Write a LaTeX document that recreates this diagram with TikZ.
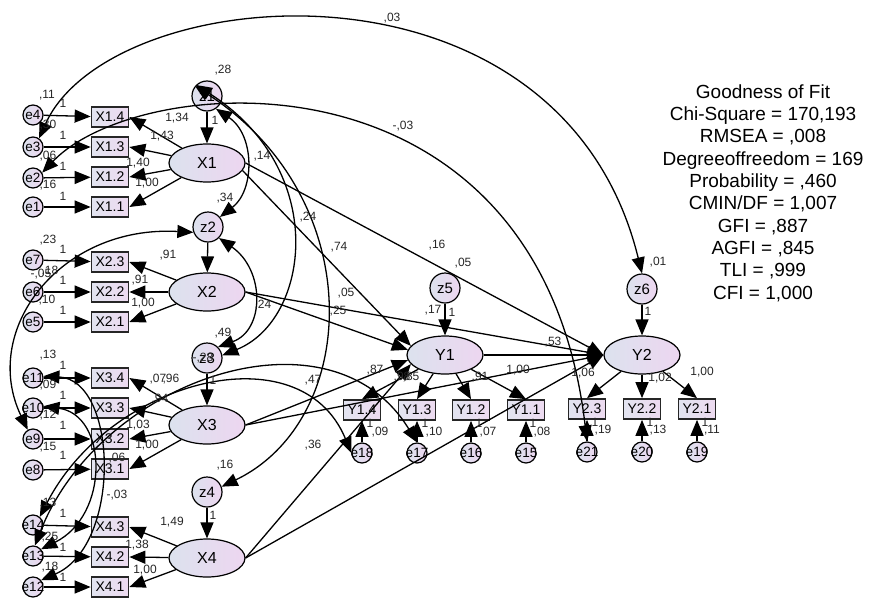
\documentclass[tikz,border=0pt]{standalone}
\usepackage{fontspec}
\setmainfont{Liberation Sans}
\usetikzlibrary{arrows.meta,shapes.geometric}
\definecolor{latL}{HTML}{DCE2EE}
\definecolor{latR}{HTML}{EDD6F0}
\definecolor{boxL}{HTML}{E2E4F0}
\definecolor{boxR}{HTML}{EDDAF0}
\begin{document}
\begin{tikzpicture}[x=1pt,y=-1pt,
  lat/.style={ellipse, draw, line width=1.2pt, minimum width=76pt, minimum height=38pt, inner sep=0pt, left color=latL, right color=latR, font=\fontsize{16}{16}\selectfont},
  obs/.style={rectangle, draw=black!85, line width=1.7pt, minimum width=37pt, minimum height=20pt, inner sep=0pt, left color=boxL, right color=boxR, font=\fontsize{14}{14}\selectfont},
  err/.style={circle, draw, line width=1.2pt, minimum size=20pt, inner sep=0pt, left color=latL, right color=latR, font=\fontsize{13.5}{13.5}\selectfont},
  dis/.style={circle, draw, line width=1.2pt, minimum size=30pt, inner sep=0pt, left color=latL, right color=latR, font=\fontsize{15}{15}\selectfont},
  lbl/.style={inner sep=0pt, text=black!85, font=\fontsize{12}{12}\selectfont},
  arr/.style={line width=1.3pt, -{Triangle[length=16pt,width=13pt]}},
  cov/.style={line width=1.3pt, {Triangle[length=16pt,width=13pt]}-{Triangle[length=16pt,width=13pt]}}
]
\useasboundingbox (0,0) rectangle (869,597);

% ---------- nodes ----------
\foreach \n/\y in {e4/115,e3/147,e2/178,e1/207,e7/260,e6/292,e5/322,e11/378,e10/408,e9/439,e8/470,e14/525,e13/556,e12/587}
  \node[err] (\n) at (33,\y) {\makebox[0pt]{\n}};
\foreach \n/\t/\y in {X14/X1.4/117,X13/X1.3/147,X12/X1.2/177,X11/X1.1/207,X23/X2.3/262,X22/X2.2/292,X21/X2.1/322,X34/X3.4/378,X33/X3.3/408,X32/X3.2/439,X31/X3.1/469,X43/X4.3/527,X42/X4.2/557,X41/X4.1/587}
  \node[obs] (\n) at (110,\y) {\t};
\node[dis] (z1) at (207,96) {z1};
\node[lat] (X1) at (207,163) {X1};
\node[dis] (z2) at (208,227) {z2};
\node[lat] (X2) at (207,292) {X2};
\node[dis] (z3) at (207,358) {z3};
\node[lat] (X3) at (207,425) {X3};
\node[dis] (z4) at (207,492) {z4};
\node[lat] (X4) at (207,558) {X4};
\node[dis] (z5) at (445,288) {z5};
\node[lat] (Y1) at (445,355) {Y1};
\node[dis] (z6) at (642,289) {z6};
\node[lat] (Y2) at (642,355) {Y2};
\foreach \n/\t/\x in {Y14/Y1.4/362,Y13/Y1.3/417,Y12/Y1.2/471,Y11/Y1.1/526}
  \node[obs] (\n) at (\x,410) {\t};
\foreach \n/\x in {e18/362,e17/417,e16/471,e15/526}
  \node[err] (\n) at (\x,453) {\makebox[0pt]{\n}};
\foreach \n/\t/\x in {Y23/Y2.3/587,Y22/Y2.2/642,Y21/Y2.1/697}
  \node[obs] (\n) at (\x,409) {\t};
\foreach \n/\x in {e21/587,e20/642,e19/697}
  \node[err] (\n) at (\x,452) {\makebox[0pt]{\n}};

\node[align=center, inner sep=0pt, font=\fontsize{19}{22.3}\selectfont] (fit) at (763,193)
 {Goodness of Fit\\Chi-Square = 170,193\\RMSEA = ,008\\Degreeoffreedom = 169\\Probability = ,460\\CMIN/DF = 1,007\\GFI = ,887\\AGFI = ,845\\TLI = ,999\\CFI = 1,000};

% ---------- measurement arrows ----------
\foreach \e/\b in {e4/X14,e3/X13,e2/X12,e1/X11,e7/X23,e6/X22,e5/X21,e11/X34,e10/X33,e9/X32,e8/X31,e14/X43,e13/X42,e12/X41}
  \draw[arr] (\e) -- (\b);
\foreach \l/\b in {X1/X14,X1/X13,X1/X12,X1/X11,X2/X23,X2/X22,X2/X21,X3/X34,X3/X33,X3/X32,X3/X31,X4/X43,X4/X42,X4/X41}
  \draw[arr] (\l) -- (\b.east);
\foreach \z/\l in {z1/X1,z2/X2,z3/X3,z4/X4,z5/Y1,z6/Y2}
  \draw[arr] (\z) -- (\l);
\foreach \b in {Y14,Y13,Y12,Y11}
  \draw[arr] (Y1) -- (\b.north);
\foreach \b in {Y23,Y22,Y21}
  \draw[arr] (Y2) -- (\b.north);
\foreach \e/\b in {e18/Y14,e17/Y13,e16/Y12,e15/Y11,e21/Y23,e20/Y22,e19/Y21}
  \draw[arr] (\e) -- (\b);

% ---------- structural arrows ----------
\draw[arr] (X1.east) -- (Y2.west);
\draw[arr] (X1.-12) -- (Y1.165);
\draw[arr] (X2.east) -- (Y2.west);
\draw[arr] (X2.east) -- (Y1.172);
\draw[arr] (X3.east) -- (Y1.188);
\draw[arr] (X3.east) -- (Y2.west);
\draw[arr] (X4.east) -- (Y1.195);
\draw[arr] (X4.east) -- (Y2.west);
\draw[arr] (Y1.east) -- (Y2.west);

% ---------- covariances ----------
\draw[cov] (e3.55) .. controls (110,-20) and (560,-60) .. (z6.north);
\draw[cov] (e2.30) .. controls (140,70) and (540,40) .. (e21.north);
\draw[cov] (z1.-55) .. controls (255,135) and (255,190) .. (z2.40);
\draw[cov] (z1.135) .. controls (330,170) and (310,320) .. (z3.10);
\draw[cov] (z1.140) .. controls (370,200) and (360,420) .. (z4.20);
\draw[cov] (z2.-45) .. controls (265,270) and (265,330) .. (z3.45);
\draw[cov] (e9.120) .. controls (-20,330) and (60,225) .. (z2.200);
\draw[cov] (e11.10) .. controls (118,380) and (122,545) .. (e12.40);
\draw[cov] (e10.10) .. controls (108,415) and (110,515) .. (e13.40);
\draw[cov] (e13.80) .. controls (100,380) and (330,300) .. (e17.north);
\draw[cov] (e14.50) .. controls (110,380) and (300,330) .. (e18.west);

% ---------- labels ----------
\foreach \i/\x/\y/\t in {
 1/47/95/{,11}, 2/63/103/1, 3/48/125/{,30}, 4/63/135/1, 5/48/156/{,06}, 6/63/166/1, 7/48/185/{,16}, 8/63/196/1,
 9/177/118/{1,34}, 10/162/136/{1,43}, 11/138/163/{1,40}, 12/147/183/{1,00}, 13/262/156/{,14}, 14/225/198/{,34}, 15/215/120/1, 16/223/70/{,28},
 17/48/240/{,23}, 18/63/249/1, 19/41/274/{-,05}, 20/50/271/{,18}, 21/63/280/1, 22/47/300/{,10}, 23/63/310/1,
 24/168/255/{,91}, 25/140/280/{,91}, 26/143/303/{1,00}, 27/263/305/{,24}, 28/223/333/{,49},
 29/48/355/{,13}, 30/63/365/1, 31/48/385/{,09}, 32/63/395/1, 33/48/415/{,12}, 34/63/425/1, 35/48/447/{,15}, 36/63/455/1,
 37/158/379/{,07}, 38/171/379/{,96}, 39/160/399/{,94}, 40/138/425/{1,03}, 41/147/445/{1,00}, 42/117/458/{,06}, 43/203/358/{-,28}, 44/213/380/1,
 45/48/503/{,13}, 46/63/513/1, 47/50/537/{,25}, 48/63/547/1, 49/50/567/{,18}, 50/63/577/1, 51/117/495/{-,03},
 52/172/522/{1,49}, 53/137/545/{1,38}, 54/145/570/{1,00}, 55/213/515/1, 56/225/465/{,16},
 57/308/217/{,24}, 58/339/247/{,74}, 59/346/293/{,05}, 60/338/311/{,25}, 61/313/380/{,47}, 62/313/445/{,36}, 63/375/370/{,87},
 64/433/310/{,17}, 65/452/312/1, 66/463/263/{,05}, 67/437/245/{,16}, 68/553/342/{,53}, 69/402/377/{,98}, 70/411/377/{,85}, 71/480/377/{,91}, 72/518/370/{1,00},
 73/370/423/1, 74/380/432/{,09}, 75/425/423/1, 76/434/432/{,10}, 77/479/423/1, 78/488/432/{,07}, 79/533/423/1, 80/542/432/{,08},
 81/658/262/{,01}, 82/648/311/1, 83/583/373/{1,06}, 84/660/378/{1,02}, 85/702/372/{1,00},
 86/595/422/1, 87/603/430/{,19}, 88/650/422/1, 89/658/430/{,13}, 90/705/422/1, 91/712/430/{,11},
 92/403/126/{-,03}, 93/392/18/{,03}}
  \node[lbl] (l\i) at (\x,\y) {\t};
\end{tikzpicture}
\end{document}
